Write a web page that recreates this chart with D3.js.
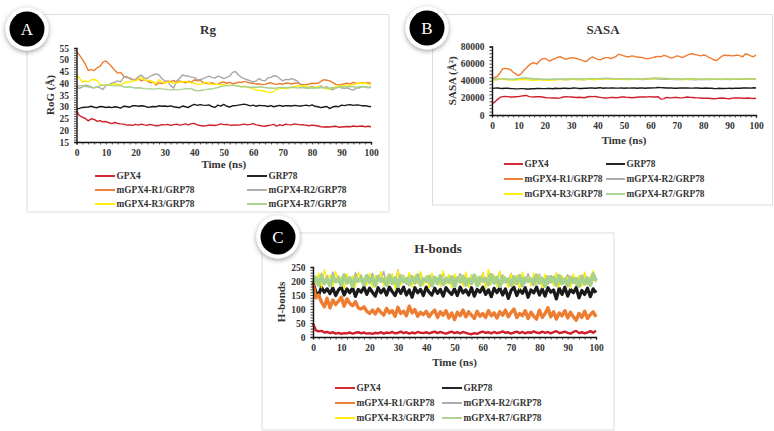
<!DOCTYPE html>
<html>
<head>
<meta charset="utf-8">
<script src="https://cdn.jsdelivr.net/npm/d3@7/dist/d3.min.js"></script>
<style>
  html, body { margin: 0; padding: 0; background: #fff; }
  svg { display: block; }
  text { font-family: "Liberation Serif", serif; font-weight: bold; }
</style>
</head>
<body>
<svg id="figure" width="774" height="431"></svg>
<script>
const seriesNames = ["GPX4", "GRP78", "mGPX4-R1/GRP78", "mGPX4-R2/GRP78", "mGPX4-R3/GRP78", "mGPX4-R7/GRP78"];
const seriesColors = ["#d0202a", "#1a1a1a", "#ed7d31", "#a9a9a9", "#ffee00", "#a9d18e"];

// Every series is sampled once per nanosecond, 0 to 100 ns
const time = d3.range(0, 101, 1);
const xTickLabels = d3.range(0, 101, 10);

// Radius of gyration (Å)
const rgGpx4 = [28.2,26.2,25.6,25.0,24.0,24.9,24.6,23.8,24.1,23.6,
  23.7,23.2,22.8,23.3,22.9,22.7,22.6,22.2,22.3,22.1,
  22.5,22.2,22.6,22.3,22.1,22.5,22.2,21.9,22.0,22.4,
  22.3,22.5,22.1,22.4,22.6,22.2,22.4,22.7,22.3,22.8,
  22.9,22.3,22.0,21.8,21.9,22.2,22.1,22.0,22.3,22.7,
  22.4,22.5,22.2,22.1,22.3,22.2,22.4,22.6,22.3,22.5,
  22.8,22.3,22.1,21.8,21.7,22.0,22.2,22.5,21.7,22.4,
  22.0,22.6,22.4,22.3,22.7,22.5,22.3,22.4,22.1,21.9,
  22.2,22.0,21.8,21.5,21.4,21.5,21.4,21.6,21.7,21.3,
  21.4,21.5,21.6,21.5,21.8,21.6,21.7,21.8,21.5,21.7,21.5];
const rgGrp78 = [29.0,29.3,29.7,29.8,29.9,30.2,29.8,29.6,30.1,30.0,
  29.7,29.9,29.6,30.0,29.8,29.4,30.2,30.1,29.8,30.4,
  30.5,30.2,30.4,30.3,29.8,29.9,30.1,30.0,30.4,30.2,
  30.3,30.1,30.4,30.0,29.8,29.6,30.3,30.0,29.7,30.5,
  31.0,30.6,30.9,30.7,30.6,30.8,30.1,29.7,30.7,30.3,
  31.0,30.2,29.9,30.4,30.5,30.7,30.9,31.1,30.8,30.4,
  30.7,30.2,30.6,30.5,30.4,30.1,30.5,30.0,30.3,30.6,
  30.2,30.5,30.4,30.3,30.6,30.4,30.3,30.5,30.7,30.4,
  30.8,30.2,30.0,29.6,29.9,30.1,29.2,29.9,30.2,30.0,
  30.7,30.5,30.8,30.9,30.6,30.8,30.7,30.4,30.5,30.2,30.0];
const rgR1 = [53.5,52,50.2,48,45.5,45.8,45.4,46.6,47.2,49,
  49.5,48.3,47,45.5,44.3,44.6,43,42.4,42.3,41.6,
  41.5,42,41,41.6,41,40.2,40.6,39.2,40.3,39.8,
  40.5,41,40.7,41.2,40.3,41,40.6,40.2,40.9,40.4,
  41.5,41,41.3,40.4,40,39.8,40.3,39.6,39.5,40.2,
  40.6,40,40.4,39.8,40,40.5,40.3,40.8,40.5,40.1,
  40,39.6,39.8,39.4,39.5,40,40.2,39.7,39.5,39.9,
  39.5,40.1,40,39.7,40,40.2,39.6,39.4,39.5,39.7,
  40,39.9,40,40.8,41.5,41.3,41,40.3,39.5,39.3,
  39.5,39.8,40,39.7,40.4,39.9,40,40.3,40,40.2,40];
const rgR2 = [38.5,37.8,38.5,39.2,39,38.4,38,38.6,38,37.4,
  39,39.4,40,40.5,41,40.6,42.5,42.9,42,41.4,
  41.5,42.8,43.5,42.3,42,43,43.5,44,43.5,42,
  41,40.5,39,38,41,42,43.5,43.2,43,42.6,
  42.5,41.6,41.5,42,42.5,43,42.5,42.2,43,42.6,
  42,42.5,43,44.6,45,43.5,42.5,42,41.5,41,
  40.5,41,42,41.2,41,42.3,42.5,43.2,43,42,
  41,41.6,41.5,42,41.5,41,39.5,38.5,38,38.2,
  38.5,38,38.5,38.8,38,38.6,37.5,37.2,38,38.4,
  38,37.8,38,37.4,37,38,38,38.6,38.5,38,38.5];
const rgR3 = [43.5,42.2,40.5,41,40.5,41.5,41.6,41.2,39.5,39,
  39.5,39.3,39.5,39.8,39.5,39.2,40,40.6,40.5,41,
  41,41.8,42.5,41.6,41,41.3,40.5,39.8,41.5,40.6,
  40,40.6,40.5,40.1,40,40.6,40.5,40.9,40.5,40.1,
  40,39.6,39.5,39.9,40.5,39.8,39.5,39.6,39.5,39.3,
  39.5,39.2,39,39.3,39,38.8,38.5,38.7,38.5,38,
  37.5,37.2,37,36.8,36.5,36.1,36,36.6,37.5,37.6,
  38,37.7,38,38.3,38.5,38.9,39,38.8,39,38.4,
  38,38.3,38.5,38.2,38,37.6,37.5,38,38.5,38.8,
  39,38.9,39,39.3,39.5,39.8,40,40.2,40,39.7,39.5];
const rgR7 = [38.8,39,39,38.6,38.5,38.2,38,38.4,39,39.2,
  39.2,39.3,39,38.9,39,39.1,38.5,38.3,38.5,38.2,
  38,38.1,38,37.7,37.5,37.7,37.5,37.6,37.8,37.6,
  37.5,37.3,37.2,37.4,37.2,37.3,37.5,37.7,37.6,37.8,
  37,36.8,36.9,37.1,37.3,37.6,37.5,37.9,38.2,38.6,
  38.8,39,39,39.2,39,38.7,38.5,38.5,38.4,38.3,
  38.4,38.3,38.5,38.4,38.2,38,38,37.9,38,38.2,
  38.2,38.1,38.2,38.3,38.2,38,38.2,38.1,38,37.9,
  38,38.1,38,38.2,38.2,38,38,38.1,38,38.3,
  38.5,38.4,38.5,38.6,38.5,38.3,38.5,38.6,38.5,38.3,38.2];

// Solvent accessible surface area (Å²)
const sasaGpx4 = [13000,15000,18000,20500,21500,21800,21500,21000,21000,21400,
  21500,22000,22500,22800,21500,21200,21000,21400,21500,21000,
  20500,20000,20000,19800,20000,19600,20000,21000,21500,21200,
  21000,20800,20500,20800,20500,20200,21000,21600,21500,21800,
  21000,20600,20000,19800,20000,20600,20500,20200,20500,21000,
  21000,20600,20500,20200,20500,20800,21000,21200,21000,21200,
  21500,21000,21000,21300,18500,18800,20500,20200,20000,20600,
  20500,20000,20000,20600,21000,20600,20500,20200,20000,19800,
  19500,19700,19500,19300,19000,19200,19500,19800,19500,19200,
  19000,19700,20000,19800,20000,19600,19500,19800,19500,19300,19500];
const sasaGrp78 = [31000,31400,31500,31200,31000,31300,31200,30900,30800,30500,
  30500,30800,30800,30300,30400,30700,30600,30900,31000,30800,
  30800,31000,31000,30700,31200,31000,31000,31300,31200,31000,
  31200,31500,31400,31000,31000,31300,31200,31500,31600,31300,
  31600,31900,31200,31500,31400,31700,31600,31400,31400,31700,
  31200,31500,31400,31700,31500,31300,31500,31600,31300,31500,
  31500,31700,31800,32100,32000,31800,31600,31500,31500,31200,
  31300,31600,31500,31700,31600,31400,31400,31700,31600,31300,
  31300,31500,31200,31400,31000,30800,31200,31000,30900,31100,
  31200,30900,31400,31200,31200,31500,31500,31700,31400,31800,31500];
const sasaR1 = [42000,43500,45000,49000,54000,54500,54000,53000,50000,48000,
  46000,48000,52000,55000,58000,60500,61000,59500,63000,65500,
  66000,64500,63000,65000,66000,67500,68000,66500,65000,66000,
  67000,66500,66000,65000,64000,62500,63000,66000,68000,66500,
  65000,64500,66000,67000,67000,66000,67000,68500,71000,70000,
  69000,68000,68000,69000,68500,67500,67500,67000,66000,65500,
  66500,67000,68000,68500,68000,69500,69000,67500,66500,67500,
  69000,68500,67000,68500,70000,71000,71500,70500,70000,69000,
  70000,69500,67500,66000,64500,63500,66000,68500,70000,69500,
  69500,69000,69500,70000,69000,68000,71500,70500,69000,68000,70000];
const sasaR2 = [41000,41300,41500,41900,41800,41600,41600,41300,41200,41700,
  42000,42500,42600,42300,42200,42000,42000,41700,41800,41500,
  41500,41200,41200,41500,41400,41700,41600,41400,41800,41500,
  41600,41900,41800,41500,41500,41200,41800,41700,41900,42100,
  42000,41800,42200,42500,42400,42100,42000,41800,42100,41900,
  42000,41700,41800,42100,41800,41600,41800,41500,41700,41900,
  42100,42400,42300,42100,42200,41800,42000,41700,41800,41500,
  41700,41400,41500,41800,41700,41400,41500,41200,41400,41600,
  41400,41700,41500,41300,41700,41800,41600,41400,41800,41600,
  41500,41700,41700,41900,41800,41600,41800,41700,41900,42100,42000];
const sasaR3 = [40000,41000,41500,41800,41800,41300,41000,40700,40800,41000,
  41200,41500,41600,41200,41000,40500,40500,40800,41000,41100,
  40800,40600,40500,40800,41000,41300,41500,41400,41200,41500,
  41800,41600,41500,41300,41200,41400,41600,41700,41400,41200,
  41800,42000,42000,42300,42200,41900,42400,42100,42000,41800,
  41600,41200,41400,41700,41800,42000,42000,42300,42200,42500,
  42000,42300,42600,42800,43000,42700,42800,42300,42000,41900,
  41800,41700,41600,41500,41400,41600,41800,42000,42000,41800,
  41600,41800,41800,42000,42000,41800,41600,41800,41800,41900,
  42200,42000,42000,42300,42400,42200,42200,42000,42000,42200,42000];
const sasaR7 = [41500,41800,42000,42200,42200,42000,42000,41800,41800,42300,
  42600,43100,43200,43200,43000,42700,42400,42200,42000,41800,
  41600,41700,41800,42000,42000,41800,41800,42000,42200,42100,
  42000,42200,42400,42100,42000,42200,42200,42400,42600,42500,
  42400,42600,42800,43000,43000,42800,42600,42500,42400,42300,
  42200,42100,42000,42200,42200,42100,42000,42200,42400,42600,
  42800,43200,43400,43100,42800,42700,42600,42500,42400,42300,
  42200,42000,41800,42100,42400,42300,42200,42100,42000,41900,
  41800,42000,42200,42100,42000,41900,41800,41900,42000,42100,
  42200,42000,41800,41900,42000,42100,42400,42200,42000,42100,42100];

// Hydrogen bond counts
const hbGpx4 = [48,24,20,22,16,18,14,17,12,15,
  11,14,13,16,12,15,17,13,16,12,
  14,11,15,13,17,12,16,14,18,13,
  15,19,14,17,12,16,13,18,15,14,
  17,13,16,19,14,18,15,12,16,19,
  14,17,13,18,15,12,10,14,11,16,
  19,15,17,13,18,14,16,20,15,17,
  12,16,19,14,18,13,17,15,20,16,
  14,19,15,18,13,17,21,14,16,19,
  15,12,18,22,14,17,13,16,21,15,22];
const hbGrp78 = [195,160,150,178,160,172,155,175,148,168,
  178,150,172,158,176,145,170,160,178,152,
  174,160,146,176,158,172,150,178,162,148,
  174,156,178,150,168,142,176,158,170,148,
  178,160,150,174,156,170,146,176,162,152,
  172,148,178,158,168,150,176,146,170,160,
  178,152,168,144,174,158,176,150,172,138,
  166,178,148,170,156,176,142,168,158,178,
  150,172,146,176,160,168,136,174,152,178,
  146,170,158,176,140,166,152,174,144,172,158];
const hbR1 = [190,140,150,125,108,138,104,132,116,128,
  142,110,136,120,112,126,104,100,108,92,
  84,96,82,100,88,78,102,86,94,74,
  106,84,92,76,110,86,98,74,88,80,
  92,72,86,96,70,90,78,94,68,86,
  62,88,76,96,72,90,78,66,92,74,
  84,70,94,76,86,68,90,78,96,72,
  88,100,70,84,76,94,66,88,74,64,
  96,70,84,104,72,90,64,86,76,94,
  68,88,72,60,84,70,92,66,80,90,72];
const hbR2 = [200,215,188,228,196,220,185,232,200,218,
  190,226,204,215,186,230,198,222,188,216,
  205,228,192,218,200,234,186,222,204,190,
  240,198,220,188,226,206,214,192,230,200,
  218,186,224,202,212,190,228,198,220,184,
  216,204,226,192,212,180,222,200,214,186,
  230,196,224,188,218,206,232,190,214,200,
  228,184,220,204,212,192,226,198,216,186,
  224,202,210,188,220,198,228,186,214,204,
  222,192,212,184,218,200,226,188,210,232,195];
const hbR3 = [215,190,228,176,240,200,222,180,235,195,
  214,172,226,190,218,178,232,200,212,184,
  228,176,220,196,234,182,214,190,226,172,
  238,186,216,200,230,178,222,192,234,184,
  218,174,228,196,212,180,236,188,222,176,
  226,194,216,182,232,178,220,198,212,186,
  228,174,242,190,222,180,236,194,214,176,
  226,186,220,172,232,196,214,182,228,190,
  218,176,224,198,212,184,230,178,220,192,
  214,174,226,188,218,180,232,190,212,236,196];
const hbR7 = [195,212,186,218,192,208,184,216,198,206,
  186,220,194,210,182,214,200,208,188,218,
  196,212,184,216,200,206,186,220,192,210,
  182,218,198,208,188,214,194,220,186,206,
  200,216,184,212,192,218,188,208,196,214,
  182,210,198,216,186,206,192,220,184,212,
  200,208,188,222,194,212,182,216,198,206,
  186,214,192,218,184,210,200,206,188,220,
  194,208,182,214,198,212,186,218,192,206,
  184,212,196,208,182,216,190,210,186,224,200];

const panels = [
  { letter: "A", title: "Rg", yTitle: "RoG (Å)",
    series: [rgGpx4, rgGrp78, rgR1, rgR2, rgR3, rgR7],
    box: [27, 14.5, 362, 197.5], plot: [76.5, 371, 48, 142], domain: [15, 55],
    yTicks: d3.range(15, 56, 5), yMinor: d3.range(15, 56, 1),
    titleAt: [208, 29], yTitleX: 50, xLabelY: 153, xTitleY: 164,
    legendRows: [176, 190, 204], legendCols: [95, 247], swatch: 20,
    badge: [27, 29], lineWidths: [1.4, 1.4, 1.4, 1.4, 1.4, 1.4] },
  { letter: "B", title: "SASA", yTitle: "SASA (Å²)",
    series: [sasaGpx4, sasaGrp78, sasaR1, sasaR2, sasaR3, sasaR7],
    box: [432.5, 14.5, 340, 190.5], plot: [492, 756, 46.5, 115], domain: [0, 80000],
    yTicks: d3.range(0, 80001, 20000), yMinor: d3.range(0, 80001, 4000),
    titleAt: [603, 29], yTitleX: 452, xLabelY: 126, xTitleY: 140,
    legendRows: [164, 179, 194], legendCols: [504, 606], swatch: 19,
    badge: [427, 28], lineWidths: [1.4, 1.4, 1.4, 1.4, 1.4, 1.4] },
  { letter: "C", title: "H-bonds", yTitle: "H-bonds",
    series: [hbGpx4, hbGrp78, hbR1, hbR2, hbR3, hbR7],
    box: [262, 233, 352, 197], plot: [313, 596, 267, 337], domain: [0, 250],
    yTicks: d3.range(0, 251, 50), yMinor: d3.range(0, 251, 10),
    titleAt: [438, 248], yTitleX: 281, xLabelY: 348, xTitleY: 362,
    legendRows: [388, 403, 418], legendCols: [335, 442], swatch: 20,
    badge: [278, 237], lineWidths: [2.4, 3.2, 3.4, 1.4, 1.4, 4] }
];

const svg = d3.select("#figure");
const defs = svg.append("defs");
defs.append("filter").attr("id", "badge-shadow")
  .attr("x", "-40%").attr("y", "-40%").attr("width", "180%").attr("height", "180%")
  .append("feDropShadow")
  .attr("dx", 0).attr("dy", 1.5).attr("stdDeviation", 2.5)
  .attr("flood-color", "#000").attr("flood-opacity", 0.4);

const textColor = "#333";

panels.forEach(p => {
  const g = svg.append("g");

  g.append("rect")
    .attr("x", p.box[0]).attr("y", p.box[1])
    .attr("width", p.box[2]).attr("height", p.box[3])
    .attr("fill", "#fff").attr("stroke", "#dedede").attr("stroke-width", 1);

  const x = d3.scaleLinear().domain([0, 100]).range([p.plot[0], p.plot[1]]);
  const y = d3.scaleLinear().domain(p.domain).range([p.plot[3], p.plot[2]]);

  const line = d3.line()
    .x((d, i) => x(time[i]))
    .y(d => y(d));

  g.selectAll("path.series")
    .data(p.series)
    .join("path")
    .attr("class", "series")
    .attr("fill", "none")
    .attr("stroke", (d, i) => seriesColors[i])
    .attr("stroke-width", (d, i) => p.lineWidths[i])
    .attr("stroke-linejoin", "round")
    .attr("d", line);

  // Horizontal axis: ticks every 2 ns, labels every 10 ns
  const xAxis = d3.axisBottom(x)
    .tickValues(d3.range(0, 101, 2))
    .tickSize(2.5)
    .tickPadding(3)
    .tickFormat(d => xTickLabels.includes(d) ? d : "");
  const gx = g.append("g")
    .attr("transform", `translate(0,${p.plot[3]})`)
    .call(xAxis);
  gx.select(".domain").attr("stroke", "#111").attr("stroke-width", 1.4);
  gx.selectAll(".tick line").attr("stroke", "#222").attr("stroke-width", 0.8);
  gx.selectAll(".tick text")
    .attr("y", p.xLabelY - p.plot[3])
    .attr("dy", "0.35em")
    .attr("font-size", 9.5)
    .attr("font-family", "Liberation Serif")
    .attr("fill", textColor);

  // Vertical axis: dense minor ticks, labelled major ticks
  const yAxis = d3.axisLeft(y)
    .tickValues(p.yMinor)
    .tickSize(2.5)
    .tickPadding(5)
    .tickFormat(d => p.yTicks.includes(d) ? d : "");
  const gy = g.append("g")
    .attr("transform", `translate(${p.plot[0]},0)`)
    .call(yAxis);
  gy.select(".domain").attr("stroke", "#111").attr("stroke-width", 1.4);
  gy.selectAll(".tick line").attr("stroke", "#222").attr("stroke-width", 0.8);
  gy.selectAll(".tick text")
    .attr("font-size", 9.5)
    .attr("font-family", "Liberation Serif")
    .attr("fill", textColor);

  g.append("text")
    .attr("x", p.titleAt[0]).attr("y", p.titleAt[1])
    .attr("text-anchor", "middle").attr("dy", "0.35em")
    .attr("font-size", 13).attr("fill", textColor)
    .text(p.title);

  g.append("text")
    .attr("x", (p.plot[0] + p.plot[1]) / 2).attr("y", p.xTitleY)
    .attr("text-anchor", "middle").attr("dy", "0.35em")
    .attr("font-size", 11).attr("fill", textColor)
    .text("Time (ns)");

  g.append("text")
    .attr("transform", `translate(${p.yTitleX},${(p.plot[2] + p.plot[3]) / 2}) rotate(-90)`)
    .attr("text-anchor", "middle").attr("dy", "0.35em")
    .attr("font-size", 11).attr("fill", textColor)
    .text(p.yTitle);

  // Two-column legend
  const legend = g.selectAll("g.legend")
    .data(seriesNames)
    .join("g")
    .attr("class", "legend")
    .attr("transform", (d, i) =>
      `translate(${p.legendCols[i % 2]},${p.legendRows[Math.floor(i / 2)]})`);
  legend.append("line")
    .attr("x1", 0).attr("x2", p.swatch)
    .attr("stroke", (d, i) => seriesColors[i])
    .attr("stroke-width", 1.9);
  legend.append("text")
    .attr("x", p.swatch + 1.5)
    .attr("dy", "0.35em")
    .attr("font-size", 9.3)
    .attr("fill", textColor)
    .text(d => d);

  // Lettered panel badge
  const badge = svg.append("g")
    .attr("transform", `translate(${p.badge[0]},${p.badge[1]})`);
  badge.append("circle")
    .attr("r", 21.5).attr("fill", "#fff")
    .attr("filter", "url(#badge-shadow)");
  badge.append("circle").attr("r", 17.5).attr("fill", "#000");
  badge.append("text")
    .attr("text-anchor", "middle").attr("dy", "0.36em")
    .attr("font-size", 17)
    .attr("fill", "#fff")
    .style("font-weight", "normal")
    .text(p.letter);
});
</script>
</body>
</html>
